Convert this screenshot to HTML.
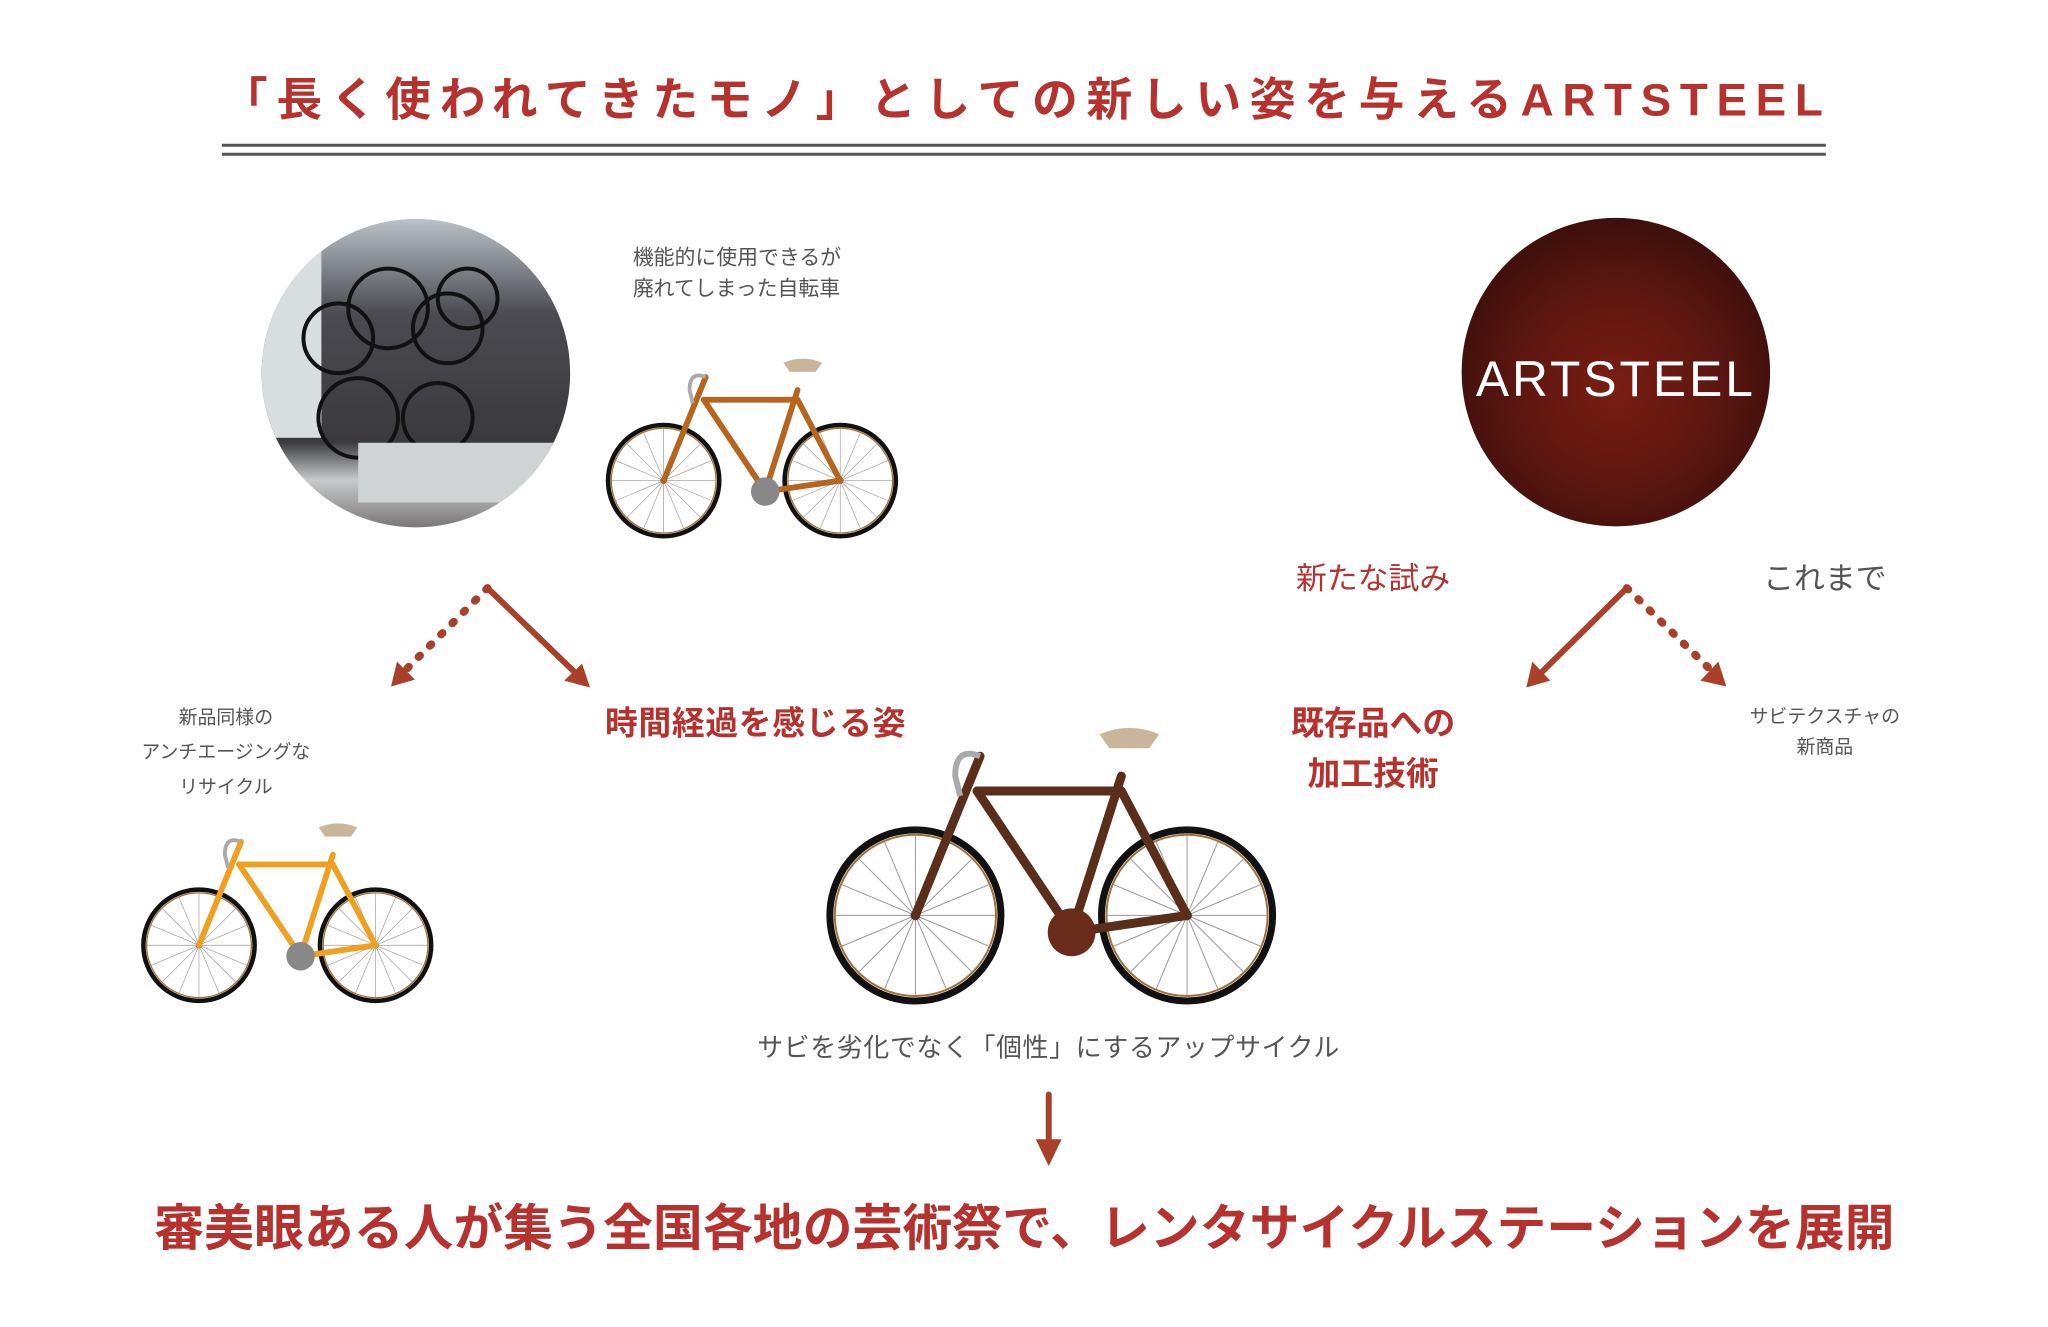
<!DOCTYPE html>
<html><head><meta charset="utf-8"><style>
html,body{margin:0;padding:0;background:#fff;}
svg{display:block;}
text{font-family:"Liberation Sans","Noto Sans CJK JP",sans-serif;}
</style></head><body>
<svg width="2048" height="1327" viewBox="0 0 2048 1327" xmlns="http://www.w3.org/2000/svg">
<defs>
  <radialGradient id="rust" cx="50%" cy="55%" r="55%">
    <stop offset="0" stop-color="#7a1d12"/>
    <stop offset="0.6" stop-color="#5c1610"/>
    <stop offset="1" stop-color="#3d0f0c"/>
  </radialGradient>
  <linearGradient id="photo" x1="0" y1="0" x2="0" y2="1">
    <stop offset="0" stop-color="#b9c2c8"/>
    <stop offset="0.3" stop-color="#4a4a50"/>
    <stop offset="0.7" stop-color="#3a3a3e"/>
    <stop offset="0.82" stop-color="#c8cacb"/>
    <stop offset="1" stop-color="#6b6666"/>
  </linearGradient>
  <clipPath id="cl"><circle cx="418" cy="375" r="155"/></clipPath>
  <g id="wheel">
    <circle r="86" fill="none" stroke="#111" stroke-width="7"/>
    <circle r="81" fill="none" stroke="#a0703a" stroke-width="2"/>
    <g stroke="#999" stroke-width="1">
      <line x1="-80" y1="0" x2="80" y2="0"/><line x1="0" y1="-80" x2="0" y2="80"/>
      <line x1="-57" y1="-57" x2="57" y2="57"/><line x1="-57" y1="57" x2="57" y2="-57"/>
      <line x1="-74" y1="-31" x2="74" y2="31"/><line x1="-74" y1="31" x2="74" y2="-31"/>
      <line x1="-31" y1="-74" x2="31" y2="74"/><line x1="-31" y1="74" x2="31" y2="-74"/>
    </g>
    <circle r="5" fill="#555"/>
  </g>
</defs>
<g transform="scale(0.995)">
<!-- Title -->
<text x="223" y="116" font-size="46" font-weight="bold" fill="#b5322e" textLength="1609" lengthAdjust="spacing">「長く使われてきたモノ」としての新しい姿を与えるARTSTEEL</text>
<line x1="223" y1="146" x2="1835" y2="146" stroke="#555" stroke-width="3"/>
<line x1="223" y1="155" x2="1835" y2="155" stroke="#555" stroke-width="3"/>

<!-- left photo circle -->
<g clip-path="url(#cl)">
  <rect x="260" y="220" width="320" height="320" fill="url(#photo)"/>
  <rect x="263" y="220" width="60" height="220" fill="#d8dde0"/>
  <g fill="none" stroke="#111" stroke-width="4">
    <circle cx="340" cy="340" r="35"/><circle cx="390" cy="310" r="40"/><circle cx="450" cy="330" r="35"/>
    <circle cx="360" cy="420" r="40"/><circle cx="440" cy="420" r="35"/><circle cx="470" cy="300" r="30"/>
  </g>
  <rect x="360" y="445" width="200" height="60" fill="#d0d3d4"/>
</g>

<text x="636" y="266" font-size="21" fill="#555">機能的に使用できるが</text>
<text x="636" y="297" font-size="21" fill="#555">廃れてしまった自転車</text>

<g transform="translate(667,483) scale(0.65)">
  <use href="#wheel"/><use href="#wheel" x="273"/>
  <g fill="none" stroke="#b5651d" stroke-width="9" stroke-linecap="round">
    <line x1="0" y1="0" x2="65" y2="-160"/>
    <line x1="62" y1="-125" x2="207" y2="-125"/>
    <line x1="62" y1="-125" x2="157" y2="17"/>
    <line x1="157" y1="17" x2="207" y2="-140"/>
    <line x1="157" y1="17" x2="273" y2="0"/>
    <line x1="207" y1="-125" x2="273" y2="0"/>
  </g>
  <circle cx="157" cy="17" r="22" fill="#888"/>
  <path d="M185 -182 Q215 -195 245 -182 L235 -168 L195 -168 Z" fill="#c9b69a"/>
  <path d="M65 -160 Q40 -170 40 -140 L45 -120" fill="none" stroke="#aaa" stroke-width="6"/>
</g>
<g transform="translate(200,950) scale(0.65)">
  <use href="#wheel"/><use href="#wheel" x="273"/>
  <g fill="none" stroke="#f0a020" stroke-width="9" stroke-linecap="round">
    <line x1="0" y1="0" x2="65" y2="-160"/>
    <line x1="62" y1="-125" x2="207" y2="-125"/>
    <line x1="62" y1="-125" x2="157" y2="17"/>
    <line x1="157" y1="17" x2="207" y2="-140"/>
    <line x1="157" y1="17" x2="273" y2="0"/>
    <line x1="207" y1="-125" x2="273" y2="0"/>
  </g>
  <circle cx="157" cy="17" r="22" fill="#888"/>
  <path d="M185 -182 Q215 -195 245 -182 L235 -168 L195 -168 Z" fill="#c9b69a"/>
  <path d="M65 -160 Q40 -170 40 -140 L45 -120" fill="none" stroke="#aaa" stroke-width="6"/>
</g>
<g transform="translate(920,920)">
  <use href="#wheel"/><use href="#wheel" x="273"/>
  <g fill="none" stroke="#5a2e1a" stroke-width="9" stroke-linecap="round">
    <line x1="0" y1="0" x2="65" y2="-160"/>
    <line x1="62" y1="-125" x2="207" y2="-125"/>
    <line x1="62" y1="-125" x2="157" y2="17"/>
    <line x1="157" y1="17" x2="207" y2="-140"/>
    <line x1="157" y1="17" x2="273" y2="0"/>
    <line x1="207" y1="-125" x2="273" y2="0"/>
  </g>
  <circle cx="157" cy="17" r="24" fill="#6a2c1a"/>
  <path d="M185 -182 Q215 -195 245 -182 L235 -168 L195 -168 Z" fill="#c9b69a"/>
  <path d="M65 -160 Q40 -170 40 -140 L45 -120" fill="none" stroke="#aaa" stroke-width="6"/>
</g>

<!-- ARTSTEEL circle -->
<circle cx="1624" cy="374" r="155" fill="url(#rust)"/>
<text x="1624" y="398" font-size="50" fill="#fff" text-anchor="middle" letter-spacing="3">ARTSTEEL</text>

<text x="1380" y="592" font-size="31" fill="#b5322e" text-anchor="middle">新たな試み</text>
<text x="1834" y="592" font-size="31" fill="#555" text-anchor="middle">これまで</text>

<!-- arrows -->
<g stroke="#a8402a" stroke-width="6" fill="none" stroke-linecap="round">
  <line x1="490" y1="591" x2="578" y2="676"/>
  <line x1="490" y1="591" x2="407" y2="674" stroke-dasharray="2 14" stroke-width="8"/>
  <line x1="1635" y1="591" x2="1549" y2="676"/>
  <line x1="1635" y1="591" x2="1720" y2="674" stroke-dasharray="2 14" stroke-width="8"/>
  <line x1="1054" y1="1100" x2="1054" y2="1150"/>
</g>
<g fill="#a8402a">
  <polygon points="593,691 567,684 585,667"/>
  <polygon points="393,690 399,665 417,683"/>
  <polygon points="1534,691 1540,665 1558,684"/>
  <polygon points="1735,690 1709,684 1727,665"/>
  <polygon points="1041,1145 1067,1145 1054,1172"/>
</g>

<text x="227" y="727" font-size="19" fill="#555" text-anchor="middle">新品同様の</text>
<text x="227" y="762" font-size="19" fill="#555" text-anchor="middle">アンチエージングな</text>
<text x="227" y="797" font-size="19" fill="#555" text-anchor="middle">リサイクル</text>

<text x="608" y="738" font-size="33" font-weight="bold" fill="#b5322e" textLength="302" lengthAdjust="spacing">時間経過を感じる姿</text>
<text x="1380" y="738" font-size="33" font-weight="bold" fill="#b5322e" text-anchor="middle">既存品への</text>
<text x="1380" y="789" font-size="33" font-weight="bold" fill="#b5322e" text-anchor="middle">加工技術</text>

<text x="1834" y="726" font-size="19" fill="#555" text-anchor="middle">サビテクスチャの</text>
<text x="1834" y="757" font-size="19" fill="#555" text-anchor="middle">新商品</text>

<text x="761" y="1062" font-size="26" fill="#555" textLength="585" lengthAdjust="spacing">サビを劣化でなく「個性」にするアップサイクル</text>

<text x="155" y="1252" font-size="50" font-weight="bold" fill="#b5322e" textLength="1749" lengthAdjust="spacing">審美眼ある人が集う全国各地の芸術祭で、レンタサイクルステーションを展開</text>
</g>
</svg>
</body></html>
